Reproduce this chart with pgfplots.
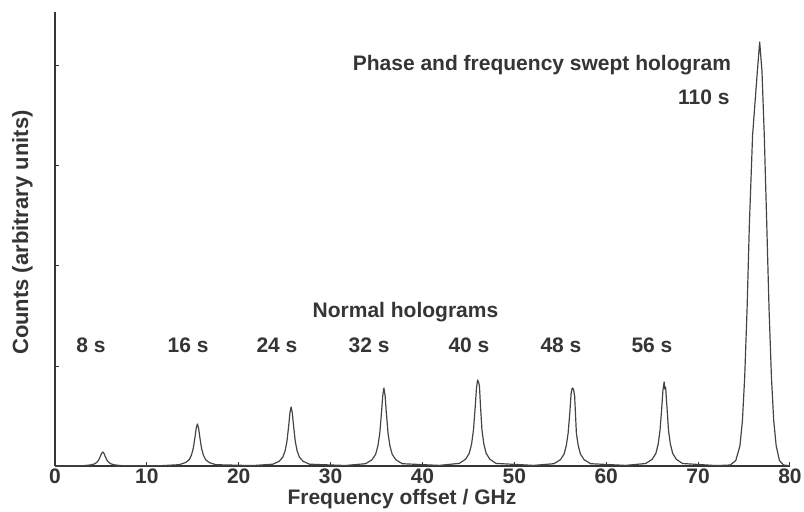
\documentclass[border=0pt]{standalone}
\usepackage{fontspec}
\setmainfont{Liberation Sans}
\usepackage{pgfplots}
\pgfplotsset{compat=1.18}
\definecolor{ink}{HTML}{353535}
\definecolor{trace}{HTML}{444444}
\begin{document}
\begin{tikzpicture}
\begin{axis}[
  scale only axis,
  width=735bp, height=454bp,
  xmin=0, xmax=80, ymin=0, ymax=4.54,
  axis lines=left,
  axis line style={-, draw=ink, line width=1.2pt},
  xtick={0,10,...,80},
  ytick={1,2,3,4},
  yticklabels={},
  tick align=inside,
  major tick length=4bp,
  tick style={draw=ink, line width=1pt},
  /pgf/number format/assume math mode=true,
  xticklabel style={font=\fontsize{21bp}{24bp}\selectfont\bfseries, text=ink, yshift=1bp},
  xlabel={Frequency offset / GHz},
  ylabel={Counts (arbitrary units)},
  xlabel style={at={(axis description cs:0.472,0)}, anchor=base, yshift=-38bp,
    font=\fontsize{21bp}{25bp}\selectfont\bfseries, text=ink},
  ylabel style={at={(axis description cs:-0.0367,0.514)}, anchor=base,
    font=\fontsize{22bp}{26bp}\selectfont\bfseries, text=ink},
  clip=false,
]
\addplot[trace, line width=1.2pt, line join=round] coordinates {
  (0,0) (3.2,0.004) (3.9,0.011) (4.3,0.021) (4.55,0.036) (4.75,0.059) (4.94,0.097) (5.07,0.126)
  (5.2,0.14) (5.33,0.126) (5.46,0.097) (5.65,0.059) (5.85,0.036) (6.1,0.021) (6.5,0.011) (7.2,0.004)
  (11.5,0.003) (13.5,0.013) (14.2,0.034) (14.6,0.063) (14.85,0.109) (15.05,0.176) (15.24,0.290) (15.37,0.378)
  (15.5,0.42) (15.63,0.378) (15.76,0.290) (15.95,0.176) (16.15,0.109) (16.4,0.063) (16.8,0.034) (17.5,0.013)
  (21.5,0.004) (23.7,0.018) (24.4,0.047) (24.8,0.089) (25.05,0.153) (25.25,0.248) (25.44,0.407) (25.57,0.531)
  (25.7,0.59) (25.83,0.531) (25.96,0.407) (26.15,0.248) (26.35,0.153) (26.6,0.089) (27.0,0.047) (27.7,0.018)
  (31.6,0.005) (33.8,0.023) (34.5,0.062) (34.9,0.117) (35.15,0.203) (35.35,0.328) (35.54,0.538) (35.67,0.702)
  (35.8,0.78) (35.93,0.702) (36.06,0.538) (36.25,0.328) (36.45,0.203) (36.7,0.117) (37.1,0.062) (37.8,0.023)
  (41.8,0.006) (44.0,0.026) (44.7,0.069) (45.1,0.129) (45.35,0.224) (45.55,0.361) (45.74,0.593) (45.87,0.774)
  (46.0,0.86) (46.1,0.84) (46.2,0.80) (46.3,0.62) (46.47,0.361) (46.67,0.224) (46.92,0.129) (47.32,0.069) (48.0,0.026)
  (52.1,0.006) (54.3,0.023) (55.0,0.062) (55.4,0.117) (55.65,0.203) (55.85,0.328) (56.04,0.538) (56.17,0.72)
  (56.3,0.78) (56.43,0.77) (56.56,0.70) (56.75,0.328) (56.95,0.203) (57.2,0.117) (57.6,0.062) (58.3,0.023)
  (62.1,0.006) (64.3,0.025) (65.0,0.067) (65.4,0.126) (65.65,0.218) (65.85,0.353) (66.04,0.580) (66.17,0.756)
  (66.3,0.84) (66.38,0.77) (66.46,0.79) (66.6,0.60) (66.78,0.353) (66.98,0.218) (67.23,0.126) (67.63,0.067) (68.3,0.025)
  (72.0,0.004) (73.5,0.01) (74.1,0.055) (74.55,0.20) (74.82,0.45) (75.07,0.89) (75.33,1.57) (75.58,2.42) (75.93,3.31) (76.45,3.95)
  (76.7,4.24) (76.95,3.95) (77.2,3.31) (77.47,2.42) (77.72,1.57) (77.98,0.89) (78.23,0.45) (78.5,0.20) (78.85,0.055) (79.3,0.01) (80,0.002)
};
\begin{scope}[every node/.style={font=\fontsize{21bp}{25bp}\selectfont\bfseries, text=ink}]
\node[anchor=base] at (axis cs:53.0,3.95) {Phase and frequency swept hologram};
\node[anchor=base east] at (axis cs:73.8,3.61) {110 s};
\node[anchor=base] at (axis cs:38.15,1.48) {Normal holograms};
\node[anchor=base] at (axis cs:3.92,1.13) {8 s};
\node[anchor=base] at (axis cs:14.48,1.13) {16 s};
\node[anchor=base] at (axis cs:24.16,1.13) {24 s};
\node[anchor=base] at (axis cs:34.18,1.13) {32 s};
\node[anchor=base] at (axis cs:45.06,1.13) {40 s};
\node[anchor=base] at (axis cs:55.07,1.13) {48 s};
\node[anchor=base] at (axis cs:64.98,1.13) {56 s};
\end{scope}
\end{axis}
\pgfresetboundingbox
\path[use as bounding box] (-55bp,-46bp) rectangle (749bp,466bp);
\end{tikzpicture}
\end{document}
